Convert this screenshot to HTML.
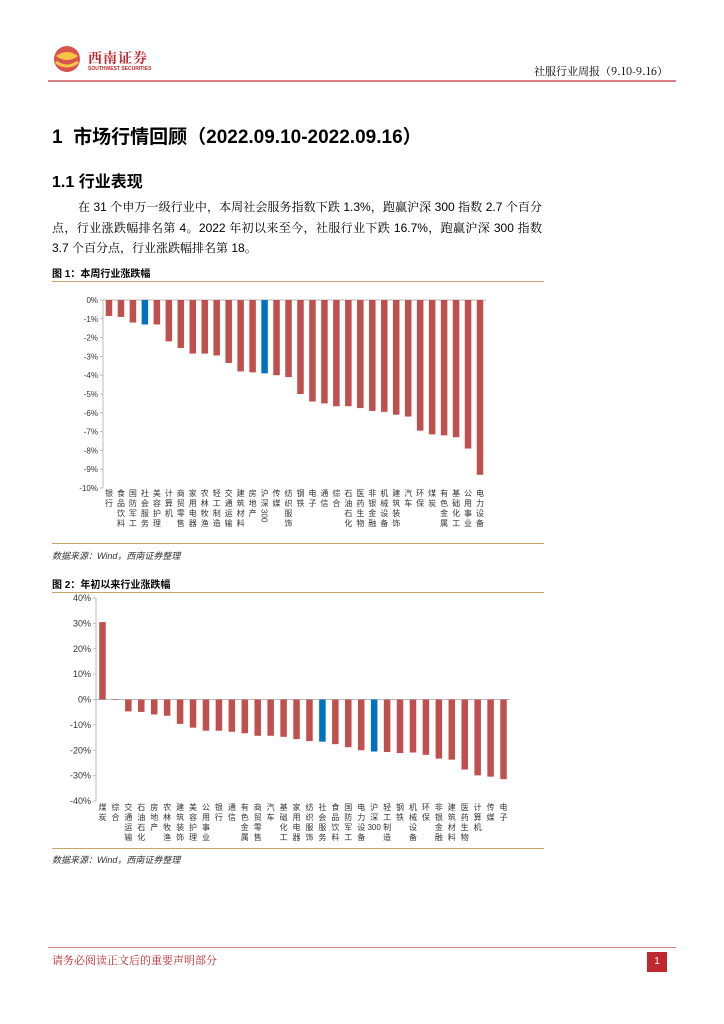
<!DOCTYPE html>
<html><head><meta charset="utf-8">
<style>
body{margin:0;background:#fff;}
#page{position:relative;width:724px;height:1024px;overflow:hidden;font-family:"Liberation Sans","Noto Sans CJK SC",sans-serif;color:#000;}
.abs{position:absolute;}
.body{font-size:12px;line-height:20.5px;left:52px;width:490px;top:197px;font-family:"Liberation Sans","Noto Serif CJK SC",serif;}
.ln{text-align:justify;text-align-last:justify;white-space:nowrap;}
.ln.last{text-align-last:left;}
svg text{font-family:"Liberation Sans","Noto Sans CJK SC",sans-serif;}
</style></head>
<body>
<div id="page">
  <svg class="abs" style="left:52px;top:44px" width="30" height="30">
    <circle cx="15" cy="15" r="13" fill="#d9534f"/>
    <path d="M4 12 Q15 4 26 12 Q15 20 4 12Z" fill="#f4c542"/>
    <path d="M4 18 Q15 26 26 18" stroke="#f4c542" stroke-width="3" fill="none"/>
  </svg>
  <div class="abs" style="left:88px;top:48px;font-size:14px;font-weight:bold;color:#c0282d;letter-spacing:1px;font-family:'Noto Serif CJK SC',serif">西南证券</div>
  <div class="abs" style="left:88px;top:66px;font-size:5px;font-weight:bold;color:#c0282d">SOUTHWEST SECURITIES</div>
  <div class="abs" style="left:428px;top:63px;width:240px;text-align:right;font-size:11px;font-family:'Noto Serif CJK SC',serif">社服行业周报（9.10-9.16）</div>
  <div class="abs" style="left:48px;top:80px;width:628px;height:2px;background:#d97f86"></div>

  <div class="abs" style="left:52px;top:122px;font-size:19px;font-weight:bold">1&nbsp; 市场行情回顾（2022.09.10-2022.09.16）</div>
  <div class="abs" style="left:52px;top:168px;font-size:16px;font-weight:bold">1.1 行业表现</div>
  <div class="abs body">
    <div class="ln" style="padding-left:26px">在 31 个申万一级行业中，本周社会服务指数下跌 1.3%，跑赢沪深 300 指数 2.7 个百分</div>
    <div class="ln">点，行业涨跌幅排名第 4。2022 年初以来至今，社服行业下跌 16.7%，跑赢沪深 300 指数</div>
    <div class="ln last">3.7 个百分点，行业涨跌幅排名第 18。</div>
  </div>

  <div class="abs" style="left:52px;top:265px;font-size:10px;font-weight:bold">图 1：本周行业涨跌幅</div>
  <div class="abs" style="left:52px;top:281px;width:492px;height:1px;background:#c9a46a"></div>
  <svg id="c1" class="abs" style="left:0;top:282px" width="724" height="260"></svg>
  <div class="abs" style="left:52px;top:543px;width:492px;height:1px;background:#c9a46a"></div>
  <div class="abs" style="left:52px;top:549px;font-size:9px;font-style:italic;color:#333">数据来源：Wind，西南证券整理</div>

  <div class="abs" style="left:52px;top:576px;font-size:10px;font-weight:bold">图 2：年初以来行业涨跌幅</div>
  <div class="abs" style="left:52px;top:592px;width:492px;height:1px;background:#c9a46a"></div>
  <svg id="c2" class="abs" style="left:0;top:593px" width="724" height="255"></svg>
  <div class="abs" style="left:52px;top:848px;width:492px;height:1px;background:#c9a46a"></div>
  <div class="abs" style="left:52px;top:853px;font-size:9px;font-style:italic;color:#333">数据来源：Wind，西南证券整理</div>

  <div class="abs" style="left:48px;top:947px;width:628px;height:1px;background:#d97f86"></div>
  <div class="abs" style="left:52px;top:952px;font-size:11px;color:#c0282d;font-family:'Noto Serif CJK SC',serif">请务必阅读正文后的重要声明部分</div>
  <div class="abs" style="left:647px;top:952px;width:20px;height:20px;background:#c0282d;color:#fff;font-size:10px;text-align:center;line-height:20px">1</div>
</div>
<script>
const cats1=["银行","食品饮料","国防军工","社会服务","美容护理","计算机","商贸零售","家用电器","农林牧渔","轻工制造","交通运输","建筑材料","房地产","沪深300","传媒","纺织服饰","钢铁","电子","通信","综合","石油石化","医药生物","非银金融","机械设备","建筑装饰","汽车","环保","煤炭","有色金属","基础化工","公用事业","电力设备"];
const vals1=[-0.85,-0.9,-1.2,-1.3,-1.3,-2.2,-2.55,-2.85,-2.85,-2.95,-3.35,-3.8,-3.85,-3.9,-4.0,-4.1,-5.0,-5.4,-5.5,-5.65,-5.65,-5.75,-5.9,-5.95,-6.1,-6.2,-6.95,-7.15,-7.2,-7.3,-7.9,-9.3];
const ticks1=[0,-1,-2,-3,-4,-5,-6,-7,-8,-9,-10];
const cats2=["煤炭","综合","交通运输","石油石化","房地产","农林牧渔","建筑装饰","美容护理","公用事业","银行","通信","有色金属","商贸零售","汽车","基础化工","家用电器","纺织服饰","社会服务","食品饮料","国防军工","电力设备","沪深300","轻工制造","钢铁","机械设备","环保","非银金融","建筑材料","医药生物","计算机","传媒","电子"];
const vals2=[30.5,0.2,-4.7,-4.9,-5.9,-6.4,-9.6,-11.1,-12.3,-12.3,-12.7,-13.3,-14.3,-14.3,-14.7,-15.6,-16.4,-16.6,-17.6,-18.8,-20.0,-20.5,-20.7,-21.1,-20.9,-21.8,-23.3,-23.7,-27.6,-29.9,-30.4,-31.4];
const ticks2=[40,30,20,10,0,-10,-20,-30,-40];
const blue=["社会服务","沪深300"];
const NS="http://www.w3.org/2000/svg";
function mk(svg,tag,attrs){const e=document.createElementNS(NS,tag);for(const k in attrs)e.setAttribute(k,attrs[k]);svg.appendChild(e);return e;}
function draw(id,cats,vals,ticks,o){
  const svg=document.getElementById(id);
  const y=v=>o.y0+(o.max-v)/(o.max-o.min)*(o.y1-o.y0);
  const step=(o.xr-o.xa)/cats.length;
  const x=i=>o.xa+step*(i+0.5);
  const ax=mk(svg,"line",{x1:o.xa,x2:o.xa,y1:o.y0,y2:o.y1,stroke:"#bbb"});
  
  const zl=mk(svg,"line",{x1:o.xa,x2:o.xr,y1:y(0),y2:y(0),stroke:"#bbb"});
  
  ticks.forEach(t=>{
    const tl=mk(svg,"text",{x:o.xa-5,y:y(t)+3,"font-size":o.fs,"text-anchor":"end",fill:"#333"});
    tl.textContent=t+"%";
    
    mk(svg,"line",{x1:o.xa-3,x2:o.xa,y1:y(t),y2:y(t),stroke:"#bbb"});
  });
  vals.forEach((v,i)=>{
    const top=Math.min(y(v),y(0)),h=Math.abs(y(v)-y(0));
    const r=mk(svg,"rect",{x:x(i)-o.bw/2,y:top,width:o.bw,height:Math.max(h,0.1),fill:blue.includes(cats[i])?"#0070c0":"#c0504d"});
    
    
    const t=mk(svg,"text",{"font-size":8,fill:"#333","text-anchor":"middle"});
    
    
    const parts=cats[i].match(/[0-9]+|./g);
    parts.forEach((p,j)=>{
      if(/[0-9]/.test(p)&&o.rot){
        const ry=o.ly+j*10-7;
        const rt=mk(svg,"text",{"font-size":8,fill:"#333",transform:"translate("+(x(i)-3)+","+ry+") rotate(90)"});
        rt.textContent=p;
        
        
      } else {
        const s=mk(t,"tspan",{x:x(i),y:o.ly+j*10});
        s.textContent=p;
      }
    });
  });
}
draw("c1",cats1,vals1,ticks1,{y0:300-282,y1:488-282,max:0,min:-10,xa:103,xr:486,bw:6.5,fs:8,ly:496-282,rot:true});
draw("c2",cats2,vals2,ticks2,{y0:598-593,y1:801-593,max:40,min:-40,xa:96,xr:510,bw:6.5,fs:9,ly:810-593,rot:false});
</script>
</body></html>
